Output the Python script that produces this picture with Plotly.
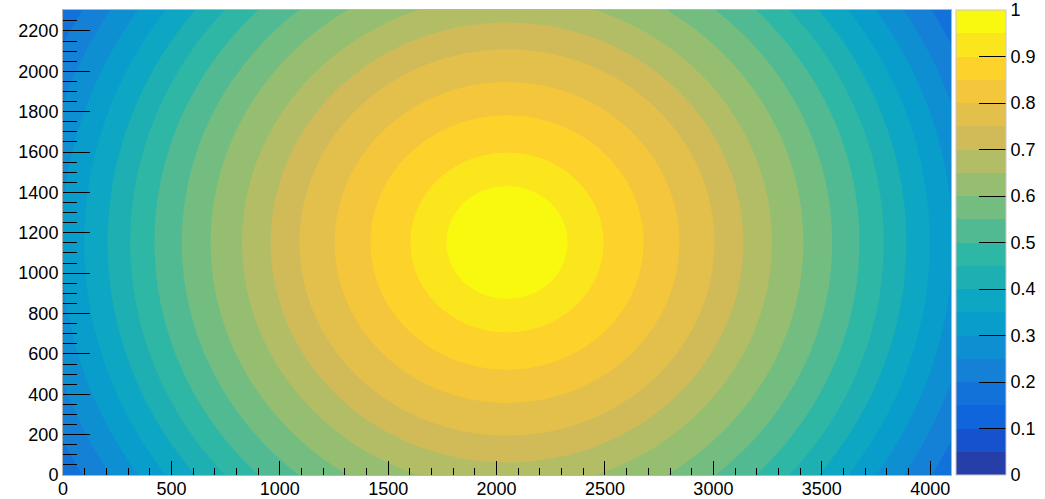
import numpy as np
import plotly.graph_objects as go

# ---- data ----
# centre of the ring pattern (data units)
center_x = 2048
center_y = 1152
# contour levels and the radius (data units) at which each contour boundary lies
levels = [1.00, 0.95, 0.90, 0.85, 0.80, 0.75, 0.70, 0.65, 0.60, 0.55,
          0.50, 0.45, 0.40, 0.35, 0.30, 0.25, 0.20, 0.15]
radii = [0, 280, 445, 630, 795, 957, 1090, 1222, 1367, 1500,
         1626, 1738, 1842, 1950, 2055, 2162, 2272, 2385]
x_extent = [0, 4096]
y_extent = [0, 2304]
cb_tickvals = [0, 0.1, 0.2, 0.3, 0.4, 0.5, 0.6, 0.7, 0.8, 0.9, 1.0]
cb_ticktext = ["0", "0.1", "0.2", "0.3", "0.4", "0.5", "0.6", "0.7", "0.8", "0.9", "1"]

# ---- field on a grid built from the measured contour radii ----
xs = np.linspace(x_extent[0], x_extent[1], 410)
ys = np.linspace(y_extent[0], y_extent[1], 231)
XX, YY = np.meshgrid(xs, ys)
R = np.sqrt((XX - center_x) ** 2 + (YY - center_y) ** 2)
Z = np.interp(R, radii, levels)

# ---- ROOT kBird palette (255 colours), 20 contour bands ----
stops = [0.0, 0.125, 0.25, 0.375, 0.5, 0.625, 0.75, 0.875, 1.0]
red = [0.2082, 0.0592, 0.0780, 0.0232, 0.1802, 0.5301, 0.8186, 0.9956, 0.9764]
green = [0.1664, 0.3599, 0.5041, 0.6419, 0.7178, 0.7492, 0.7328, 0.7862, 0.9832]
blue = [0.5293, 0.8684, 0.8385, 0.7914, 0.6425, 0.4662, 0.3499, 0.1968, 0.0539]
pal = []
for g in range(1, len(stops)):
    n = int(np.floor(255 * stops[g]) - np.floor(255 * stops[g - 1]))
    for c in range(n):
        r_ = red[g - 1] + c * (red[g] - red[g - 1]) / n
        g_ = green[g - 1] + c * (green[g] - green[g - 1]) / n
        b_ = blue[g - 1] + c * (blue[g] - blue[g - 1]) / n
        pal.append("rgb(%d,%d,%d)" % (round(r_ * 255), round(g_ * 255), round(b_ * 255)))
nb = 20
band_cols = [pal[min(254, int((i + 0.99) * 255 / nb))] for i in range(nb)]
colorscale = [[i / (nb - 1), band_cols[i]] for i in range(nb)]

font = dict(family="Liberation Sans, Arial, sans-serif", size=18, color="black")

fig = go.Figure(go.Contour(
    x=xs, y=ys, z=Z,
    zmin=0, zmax=1, zauto=False,
    colorscale=colorscale,
    contours=dict(start=0.05, end=0.95, size=0.05, coloring="fill", showlines=False),
    line=dict(width=0),
    colorbar=dict(
        x=1.0056, xanchor="left", xref="paper",
        y=0.5, yanchor="middle", len=1.0, lenmode="fraction",
        thickness=50, thicknessmode="pixels",
        outlinewidth=1, outlinecolor="#c8c8c8",
        tickmode="array", tickvals=cb_tickvals, ticktext=cb_ticktext,
        ticks="inside", ticklen=27, tickcolor="black", tickwidth=1,
        tickfont=font, xpad=0, ypad=0,
    ),
))

fig.update_layout(
    width=1045, height=499,
    margin=dict(l=63, r=94, t=10, b=24, autoexpand=False),
    paper_bgcolor="white", plot_bgcolor="white",
    font=font,
    showlegend=False,
    xaxis=dict(
        range=x_extent, tick0=0, dtick=500, ticks="inside", ticklen=14,
        tickcolor="black", tickwidth=1, showgrid=False, zeroline=False,
        showline=True, linecolor="#b4b4b4", linewidth=1, mirror=True,
        tickfont=font, automargin=False, ticklabelstandoff=-3,
        minor=dict(dtick=100, ticks="inside", ticklen=7, tickcolor="black", tickwidth=1, showgrid=False),
    ),
    yaxis=dict(
        range=y_extent, tick0=0, dtick=200, ticks="inside", ticklen=27,
        tickcolor="black", tickwidth=1, showgrid=False, zeroline=False,
        showline=True, linecolor="#b4b4b4", linewidth=1, mirror=True,
        tickfont=font, automargin=False,
        minor=dict(dtick=50, ticks="inside", ticklen=14, tickcolor="black", tickwidth=1, showgrid=False),
    ),
)

fig.write_html("out.html")
